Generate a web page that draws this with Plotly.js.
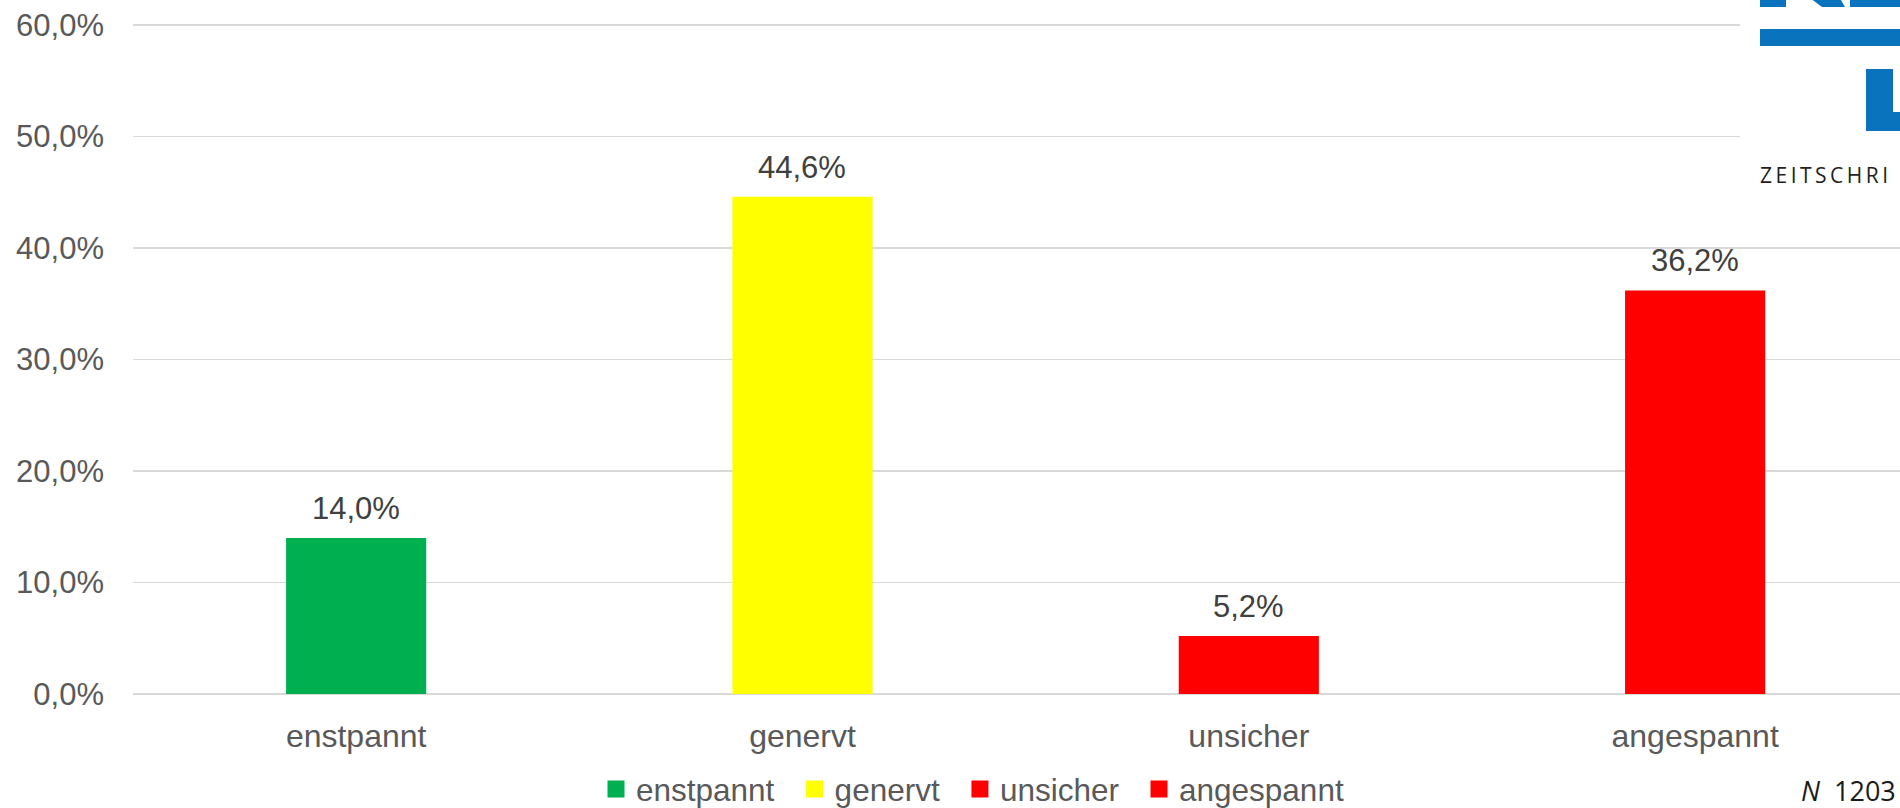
<!DOCTYPE html>
<html>
<head>
<meta charset="utf-8">
<script src="https://cdn.plot.ly/plotly-3.0.1.min.js"></script>
<style>html,body{margin:0;padding:0;background:#fff;}#chart{width:1900px;height:808px;}</style>
</head>
<body>
<div id="chart"></div>
<script>
const categories = ['enstpannt', 'genervt', 'unsicher', 'angespannt'];
const values = [14.0, 44.6, 5.2, 36.2];
const barColors = ['#00B050', '#FFFF00', '#FF0000', '#FF0000'];
const yTicks = [0, 10, 20, 30, 40, 50, 60];
const sampleNote = '<i>N</i>\u00a0\u00a01203';
const logoText = 'ZEITSCHRI';

const L = 133, R = 1900, T = 24, B = 694;
const px = x => (x - L) / (R - L);
const py = y => (B - y) / (B - T);

const fmt = v => v.toFixed(1).replace('.', ',') + '%';
const labelFont = {family: 'Liberation Sans, Arial, sans-serif', size: 32, color: '#595959'};

const barTraces = categories.map((c, i) => ({
  type: 'bar',
  x: [c],
  y: [values[i]],
  name: c,
  width: 0.314,
  marker: {color: barColors[i]},
  showlegend: false,
  hoverinfo: 'x+y'
}));
// legend entries (larger square swatches), no visible bar
const legendTraces = categories.map((c, i) => ({
  type: 'bar',
  x: [c],
  y: [null],
  name: c,
  marker: {color: barColors[i], line: {color: barColors[i], width: 5}},
  showlegend: true,
  hoverinfo: 'skip'
}));

const annotations = categories.map((c, i) => ({
  x: c, y: values[i], xref: 'x', yref: 'y',
  text: fmt(values[i]), showarrow: false,
  yanchor: 'bottom', yshift: 10,
  font: {family: 'Liberation Sans, Arial, sans-serif', size: 31, color: '#404040'}
}));

annotations.push({
  xref: 'paper', yref: 'paper', x: px(1898), y: py(790),
  xanchor: 'right', yanchor: 'middle', showarrow: false,
  text: sampleNote,
  font: {family: 'Open Sans, sans-serif', size: 27, color: '#1a1a1a'}
});
annotations.push({
  xref: 'paper', yref: 'paper', x: px(1758), y: py(175),
  xanchor: 'left', yanchor: 'middle', showarrow: false,
  text: logoText.split('').join('\u2009'),
  font: {family: 'Open Sans, sans-serif', size: 21, color: '#231f20'}
});

const blue = '#0a73bd';
const rect = (x0, y0, x1, y1, color) => ({
  type: 'rect', xref: 'paper', yref: 'paper', layer: 'above',
  x0: px(x0), x1: px(x1), y0: py(y1), y1: py(y0),
  fillcolor: color, line: {width: 0}
});
const shapes = [
  rect(1740, 0, 1900, 215, '#ffffff'),
  rect(1760, -5, 1786, 7, blue),
  rect(1850, -5, 1900, 7, blue),
  rect(1760, 29, 1900, 46, blue),
  rect(1866, 69, 1893, 131, blue),
  rect(1893, 112, 1900, 131, blue),
  {
    type: 'path', xref: 'paper', yref: 'paper', layer: 'above',
    path: 'M ' + px(1806) + ' ' + py(-5) + ' L ' + px(1838) + ' ' + py(-5) +
          ' L ' + px(1845) + ' ' + py(7) + ' L ' + px(1822) + ' ' + py(7) + ' Z',
    fillcolor: blue, line: {width: 0}
  }
];

const layout = {
  width: 1900, height: 808,
  margin: {l: L, r: 1900 - R, t: T, b: 808 - B, pad: 0, autoexpand: false},
  paper_bgcolor: '#ffffff', plot_bgcolor: '#ffffff',
  separators: ',.',
  barmode: 'overlay',
  showlegend: true,
  font: labelFont,
  xaxis: {
    type: 'category', categoryorder: 'array', categoryarray: categories,
    range: [-0.5, 3.459], showgrid: false, zeroline: false, showline: false,
    ticks: '', ticklabelstandoff: 20, automargin: false,
    tickfont: labelFont
  },
  yaxis: {
    range: [0, 60.1], tickmode: 'array', tickvals: yTicks, ticktext: yTicks.map(fmt),
    showgrid: true, gridcolor: '#d9d9d9', gridwidth: 1.5,
    zeroline: true, zerolinecolor: '#d9d9d9', zerolinewidth: 1.5,
    showline: false, ticks: '', ticklabelstandoff: 28, automargin: false,
    tickfont: {family: 'Liberation Sans, Arial, sans-serif', size: 31, color: '#595959'}
  },
  legend: {
    orientation: 'h', x: px(581), xanchor: 'left', y: py(789), yanchor: 'middle',
    itemwidth: 30, indentation: 15,
    font: {family: 'Liberation Sans, Arial, sans-serif', size: 31.5, color: '#595959'},
    bgcolor: 'rgba(0,0,0,0)', itemclick: false, itemdoubleclick: false
  },
  annotations: annotations,
  shapes: shapes
};

Plotly.newPlot('chart', barTraces.concat(legendTraces), layout, {displayModeBar: false, staticPlot: true});
</script>
</body>
</html>
